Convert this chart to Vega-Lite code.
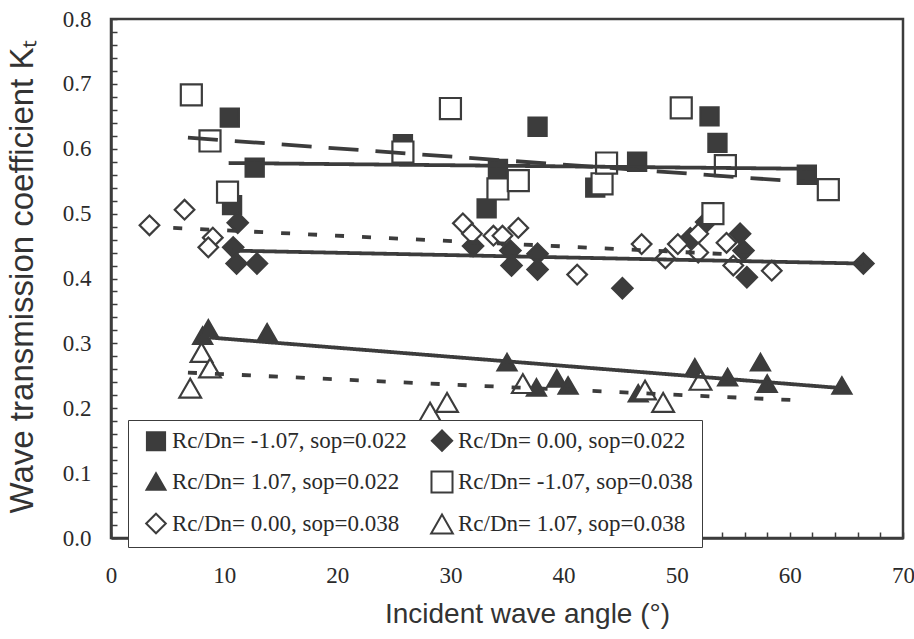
{
  "$schema": "https://vega.github.io/schema/vega-lite/v6.json",
  "width": 792,
  "height": 519,
  "autosize": "none",
  "padding": {"left": 111, "top": 19, "right": 11, "bottom": 101},
  "background": "white",
  "config": {
    "view": {"stroke": "#3c3c3c", "strokeWidth": 2.5},
    "axis": {"grid": false, "domainColor": "#3c3c3c", "domainWidth": 2.5, "tickColor": "#3c3c3c", "tickWidth": 1.5, "tickSize": -6, "labelFont": "Liberation Serif", "labelFontSize": 23, "labelColor": "#2a2a2a", "titleFont": "Liberation Sans", "titleFontWeight": "normal", "titleColor": "#333333", "labelFlush": false, "labelOverlap": false},
    "legend": {
      "orient": "none",
      "legendX": 17,
      "legendY": 401,
      "columns": 2,
      "columnPadding": 16,
      "rowPadding": 12,
      "padding": 9,
      "strokeColor": "#3c3c3c",
      "fillColor": "white",
      "labelFont": "Liberation Serif",
      "labelFontSize": 23,
      "labelColor": "#2a2a2a",
      "labelLimit": 400,
      "labelOffset": 4,
      "symbolOffset": 7,
      "symbolStrokeWidth": 2
    }
  },
  "datasets": {
    "pts": [
      {"angle": 10.5, "kt": 0.648, "series": "Rc/Dn= -1.07, sop=0.022"},
      {"angle": 12.7, "kt": 0.571, "series": "Rc/Dn= -1.07, sop=0.022"},
      {"angle": 10.7, "kt": 0.513, "series": "Rc/Dn= -1.07, sop=0.022"},
      {"angle": 25.8, "kt": 0.607, "series": "Rc/Dn= -1.07, sop=0.022"},
      {"angle": 34.2, "kt": 0.569, "series": "Rc/Dn= -1.07, sop=0.022"},
      {"angle": 33.2, "kt": 0.508, "series": "Rc/Dn= -1.07, sop=0.022"},
      {"angle": 37.7, "kt": 0.634, "series": "Rc/Dn= -1.07, sop=0.022"},
      {"angle": 42.8, "kt": 0.540, "series": "Rc/Dn= -1.07, sop=0.022"},
      {"angle": 46.5, "kt": 0.580, "series": "Rc/Dn= -1.07, sop=0.022"},
      {"angle": 52.9, "kt": 0.650, "series": "Rc/Dn= -1.07, sop=0.022"},
      {"angle": 53.6, "kt": 0.609, "series": "Rc/Dn= -1.07, sop=0.022"},
      {"angle": 61.5, "kt": 0.560, "series": "Rc/Dn= -1.07, sop=0.022"},
      {"angle": 11.2, "kt": 0.486, "series": "Rc/Dn= 0.00, sop=0.022"},
      {"angle": 10.8, "kt": 0.448, "series": "Rc/Dn= 0.00, sop=0.022"},
      {"angle": 11.1, "kt": 0.423, "series": "Rc/Dn= 0.00, sop=0.022"},
      {"angle": 12.9, "kt": 0.423, "series": "Rc/Dn= 0.00, sop=0.022"},
      {"angle": 32.0, "kt": 0.450, "series": "Rc/Dn= 0.00, sop=0.022"},
      {"angle": 35.3, "kt": 0.443, "series": "Rc/Dn= 0.00, sop=0.022"},
      {"angle": 35.4, "kt": 0.420, "series": "Rc/Dn= 0.00, sop=0.022"},
      {"angle": 37.7, "kt": 0.438, "series": "Rc/Dn= 0.00, sop=0.022"},
      {"angle": 37.7, "kt": 0.414, "series": "Rc/Dn= 0.00, sop=0.022"},
      {"angle": 45.2, "kt": 0.385, "series": "Rc/Dn= 0.00, sop=0.022"},
      {"angle": 51.2, "kt": 0.462, "series": "Rc/Dn= 0.00, sop=0.022"},
      {"angle": 52.6, "kt": 0.487, "series": "Rc/Dn= 0.00, sop=0.022"},
      {"angle": 55.6, "kt": 0.469, "series": "Rc/Dn= 0.00, sop=0.022"},
      {"angle": 55.9, "kt": 0.443, "series": "Rc/Dn= 0.00, sop=0.022"},
      {"angle": 56.2, "kt": 0.402, "series": "Rc/Dn= 0.00, sop=0.022"},
      {"angle": 66.5, "kt": 0.423, "series": "Rc/Dn= 0.00, sop=0.022"},
      {"angle": 8.1, "kt": 0.312, "series": "Rc/Dn= 1.07, sop=0.022"},
      {"angle": 8.6, "kt": 0.323, "series": "Rc/Dn= 1.07, sop=0.022"},
      {"angle": 13.8, "kt": 0.317, "series": "Rc/Dn= 1.07, sop=0.022"},
      {"angle": 35.0, "kt": 0.271, "series": "Rc/Dn= 1.07, sop=0.022"},
      {"angle": 37.6, "kt": 0.232, "series": "Rc/Dn= 1.07, sop=0.022"},
      {"angle": 39.4, "kt": 0.246, "series": "Rc/Dn= 1.07, sop=0.022"},
      {"angle": 40.4, "kt": 0.235, "series": "Rc/Dn= 1.07, sop=0.022"},
      {"angle": 46.6, "kt": 0.223, "series": "Rc/Dn= 1.07, sop=0.022"},
      {"angle": 51.6, "kt": 0.263, "series": "Rc/Dn= 1.07, sop=0.022"},
      {"angle": 54.5, "kt": 0.248, "series": "Rc/Dn= 1.07, sop=0.022"},
      {"angle": 57.4, "kt": 0.271, "series": "Rc/Dn= 1.07, sop=0.022"},
      {"angle": 58.0, "kt": 0.238, "series": "Rc/Dn= 1.07, sop=0.022"},
      {"angle": 64.6, "kt": 0.235, "series": "Rc/Dn= 1.07, sop=0.022"},
      {"angle": 7.1, "kt": 0.683, "series": "Rc/Dn= -1.07, sop=0.038"},
      {"angle": 8.75, "kt": 0.612, "series": "Rc/Dn= -1.07, sop=0.038"},
      {"angle": 10.3, "kt": 0.533, "series": "Rc/Dn= -1.07, sop=0.038"},
      {"angle": 25.8, "kt": 0.595, "series": "Rc/Dn= -1.07, sop=0.038"},
      {"angle": 30.0, "kt": 0.662, "series": "Rc/Dn= -1.07, sop=0.038"},
      {"angle": 34.2, "kt": 0.538, "series": "Rc/Dn= -1.07, sop=0.038"},
      {"angle": 36.0, "kt": 0.551, "series": "Rc/Dn= -1.07, sop=0.038"},
      {"angle": 43.4, "kt": 0.546, "series": "Rc/Dn= -1.07, sop=0.038"},
      {"angle": 43.8, "kt": 0.578, "series": "Rc/Dn= -1.07, sop=0.038"},
      {"angle": 50.4, "kt": 0.663, "series": "Rc/Dn= -1.07, sop=0.038"},
      {"angle": 54.3, "kt": 0.574, "series": "Rc/Dn= -1.07, sop=0.038"},
      {"angle": 53.2, "kt": 0.500, "series": "Rc/Dn= -1.07, sop=0.038"},
      {"angle": 63.4, "kt": 0.537, "series": "Rc/Dn= -1.07, sop=0.038"},
      {"angle": 3.4, "kt": 0.482, "series": "Rc/Dn= 0.00, sop=0.038"},
      {"angle": 6.5, "kt": 0.506, "series": "Rc/Dn= 0.00, sop=0.038"},
      {"angle": 9.0, "kt": 0.463, "series": "Rc/Dn= 0.00, sop=0.038"},
      {"angle": 8.6, "kt": 0.448, "series": "Rc/Dn= 0.00, sop=0.038"},
      {"angle": 31.1, "kt": 0.485, "series": "Rc/Dn= 0.00, sop=0.038"},
      {"angle": 31.9, "kt": 0.469, "series": "Rc/Dn= 0.00, sop=0.038"},
      {"angle": 33.8, "kt": 0.466, "series": "Rc/Dn= 0.00, sop=0.038"},
      {"angle": 34.6, "kt": 0.466, "series": "Rc/Dn= 0.00, sop=0.038"},
      {"angle": 36.0, "kt": 0.478, "series": "Rc/Dn= 0.00, sop=0.038"},
      {"angle": 41.2, "kt": 0.406, "series": "Rc/Dn= 0.00, sop=0.038"},
      {"angle": 46.9, "kt": 0.453, "series": "Rc/Dn= 0.00, sop=0.038"},
      {"angle": 49.0, "kt": 0.431, "series": "Rc/Dn= 0.00, sop=0.038"},
      {"angle": 50.1, "kt": 0.453, "series": "Rc/Dn= 0.00, sop=0.038"},
      {"angle": 51.9, "kt": 0.469, "series": "Rc/Dn= 0.00, sop=0.038"},
      {"angle": 51.9, "kt": 0.440, "series": "Rc/Dn= 0.00, sop=0.038"},
      {"angle": 54.4, "kt": 0.455, "series": "Rc/Dn= 0.00, sop=0.038"},
      {"angle": 55.0, "kt": 0.420, "series": "Rc/Dn= 0.00, sop=0.038"},
      {"angle": 58.4, "kt": 0.412, "series": "Rc/Dn= 0.00, sop=0.038"},
      {"angle": 7.0, "kt": 0.231, "series": "Rc/Dn= 1.07, sop=0.038"},
      {"angle": 8.0, "kt": 0.286, "series": "Rc/Dn= 1.07, sop=0.038"},
      {"angle": 8.75, "kt": 0.262, "series": "Rc/Dn= 1.07, sop=0.038"},
      {"angle": 28.2, "kt": 0.194, "series": "Rc/Dn= 1.07, sop=0.038"},
      {"angle": 29.7, "kt": 0.209, "series": "Rc/Dn= 1.07, sop=0.038"},
      {"angle": 36.4, "kt": 0.238, "series": "Rc/Dn= 1.07, sop=0.038"},
      {"angle": 47.2, "kt": 0.228, "series": "Rc/Dn= 1.07, sop=0.038"},
      {"angle": 48.8, "kt": 0.209, "series": "Rc/Dn= 1.07, sop=0.038"},
      {"angle": 52.1, "kt": 0.243, "series": "Rc/Dn= 1.07, sop=0.038"}
    ],
    "trends": [
      {"angle": 10.4, "kt": 0.578, "trend": "sq022", "style": "solid"},
      {"angle": 62.2, "kt": 0.569, "trend": "sq022", "style": "solid"},
      {"angle": 6.8, "kt": 0.617, "trend": "sq038", "style": "dash"},
      {"angle": 62.0, "kt": 0.548, "trend": "sq038", "style": "dash"},
      {"angle": 10.7, "kt": 0.443, "trend": "di022", "style": "solid"},
      {"angle": 66.5, "kt": 0.423, "trend": "di022", "style": "solid"},
      {"angle": 5.5, "kt": 0.478, "trend": "di038", "style": "dot"},
      {"angle": 57.4, "kt": 0.435, "trend": "di038", "style": "dot"},
      {"angle": 8.75, "kt": 0.309, "trend": "tr022", "style": "solid"},
      {"angle": 64.6, "kt": 0.231, "trend": "tr022", "style": "solid"},
      {"angle": 6.8, "kt": 0.255, "trend": "tr038", "style": "dot"},
      {"angle": 61.0, "kt": 0.212, "trend": "tr038", "style": "dot"}
    ]
  },
  "encoding": {
    "x": {
      "field": "angle", "type": "quantitative",
      "scale": {"domain": [0, 70], "nice": false, "zero": false},
      "axis": {
        "values": [0,2,4,6,8,10,12,14,16,18,20,22,24,26,28,30,32,34,36,38,40,42,44,46,48,50,52,54,56,58,60,62,64,66,68,70],
        "labelExpr": "datum.value % 10 === 0 ? format(datum.value, 'd') : ''",
        "labelPadding": 32,
        "title": "Incident wave angle (°)",
        "titleFontSize": 28,
        "titleX": 416,
        "titleY": 84,
        "titleAlign": "center",
        "titleBaseline": "alphabetic"
      }
    },
    "y": {
      "field": "kt", "type": "quantitative",
      "scale": {"domain": [0, 0.8], "nice": false},
      "axis": {
        "values": [0,0.02,0.04,0.06,0.08,0.1,0.12,0.14,0.16,0.18,0.2,0.22,0.24,0.26,0.28,0.3,0.32,0.34,0.36,0.38,0.4,0.42,0.44,0.46,0.48,0.5,0.52,0.54,0.56,0.58,0.6,0.62,0.64,0.66,0.68,0.7,0.72,0.74,0.76,0.78,0.8],
        "labelExpr": "abs(datum.value * 10 - round(datum.value * 10)) < 0.001 ? format(datum.value, '.1f') : ''",
        "labelPadding": 26,
        "title": "Wave transmission coefficient Kₜ",
        "titleFontSize": 33,
        "titleAngle": -90,
        "titleX": -89,
        "titleY": 257,
        "titleAlign": "center",
        "titleBaseline": "middle"
      }
    }
  },
  "layer": [
    {
      "data": {"name": "pts"},
      "mark": {"type": "point", "filled": true, "strokeWidth": 2.2, "opacity": 1},
      "encoding": {
        "shape": {
          "field": "series", "type": "nominal",
          "scale": {
            "domain": ["Rc/Dn= -1.07, sop=0.022", "Rc/Dn= 1.07, sop=0.022", "Rc/Dn= 0.00, sop=0.038", "Rc/Dn= 0.00, sop=0.022", "Rc/Dn= -1.07, sop=0.038", "Rc/Dn= 1.07, sop=0.038"],
            "range": ["square", "triangle-up", "diamond", "diamond", "square", "triangle-up"]
          },
          "legend": {"title": null}
        },
        "fill": {
          "field": "series", "type": "nominal",
          "scale": {
            "domain": ["Rc/Dn= -1.07, sop=0.022", "Rc/Dn= 1.07, sop=0.022", "Rc/Dn= 0.00, sop=0.038", "Rc/Dn= 0.00, sop=0.022", "Rc/Dn= -1.07, sop=0.038", "Rc/Dn= 1.07, sop=0.038"],
            "range": ["#3c3c3c", "#3c3c3c", "#ffffff", "#3c3c3c", "#ffffff", "#ffffff"]
          },
          "legend": {"title": null}
        },
        "stroke": {
          "field": "series", "type": "nominal",
          "scale": {
            "domain": ["Rc/Dn= -1.07, sop=0.022", "Rc/Dn= 1.07, sop=0.022", "Rc/Dn= 0.00, sop=0.038", "Rc/Dn= 0.00, sop=0.022", "Rc/Dn= -1.07, sop=0.038", "Rc/Dn= 1.07, sop=0.038"],
            "range": ["#3c3c3c", "#3c3c3c", "#3c3c3c", "#3c3c3c", "#3c3c3c", "#3c3c3c"]
          },
          "legend": {"title": null}
        },
        "size": {
          "field": "series", "type": "nominal",
          "scale": {
            "domain": ["Rc/Dn= -1.07, sop=0.022", "Rc/Dn= 1.07, sop=0.022", "Rc/Dn= 0.00, sop=0.038", "Rc/Dn= 0.00, sop=0.022", "Rc/Dn= -1.07, sop=0.038", "Rc/Dn= 1.07, sop=0.038"],
            "range": [330, 470, 300, 340, 320, 450]
          },
          "legend": {"title": null}
        }
      }
    },
    {
      "data": {"name": "trends"},
      "mark": {"type": "line", "color": "#3c3c3c", "strokeWidth": 3.8, "strokeCap": "butt"},
      "encoding": {
        "detail": {"field": "trend", "type": "nominal"},
        "strokeDash": {
          "field": "style", "type": "nominal",
          "scale": {"domain": ["solid", "dash", "dot"], "range": [[1, 0], [30, 17], [9, 18]]},
          "legend": null
        }
      }
    }
  ]
}
